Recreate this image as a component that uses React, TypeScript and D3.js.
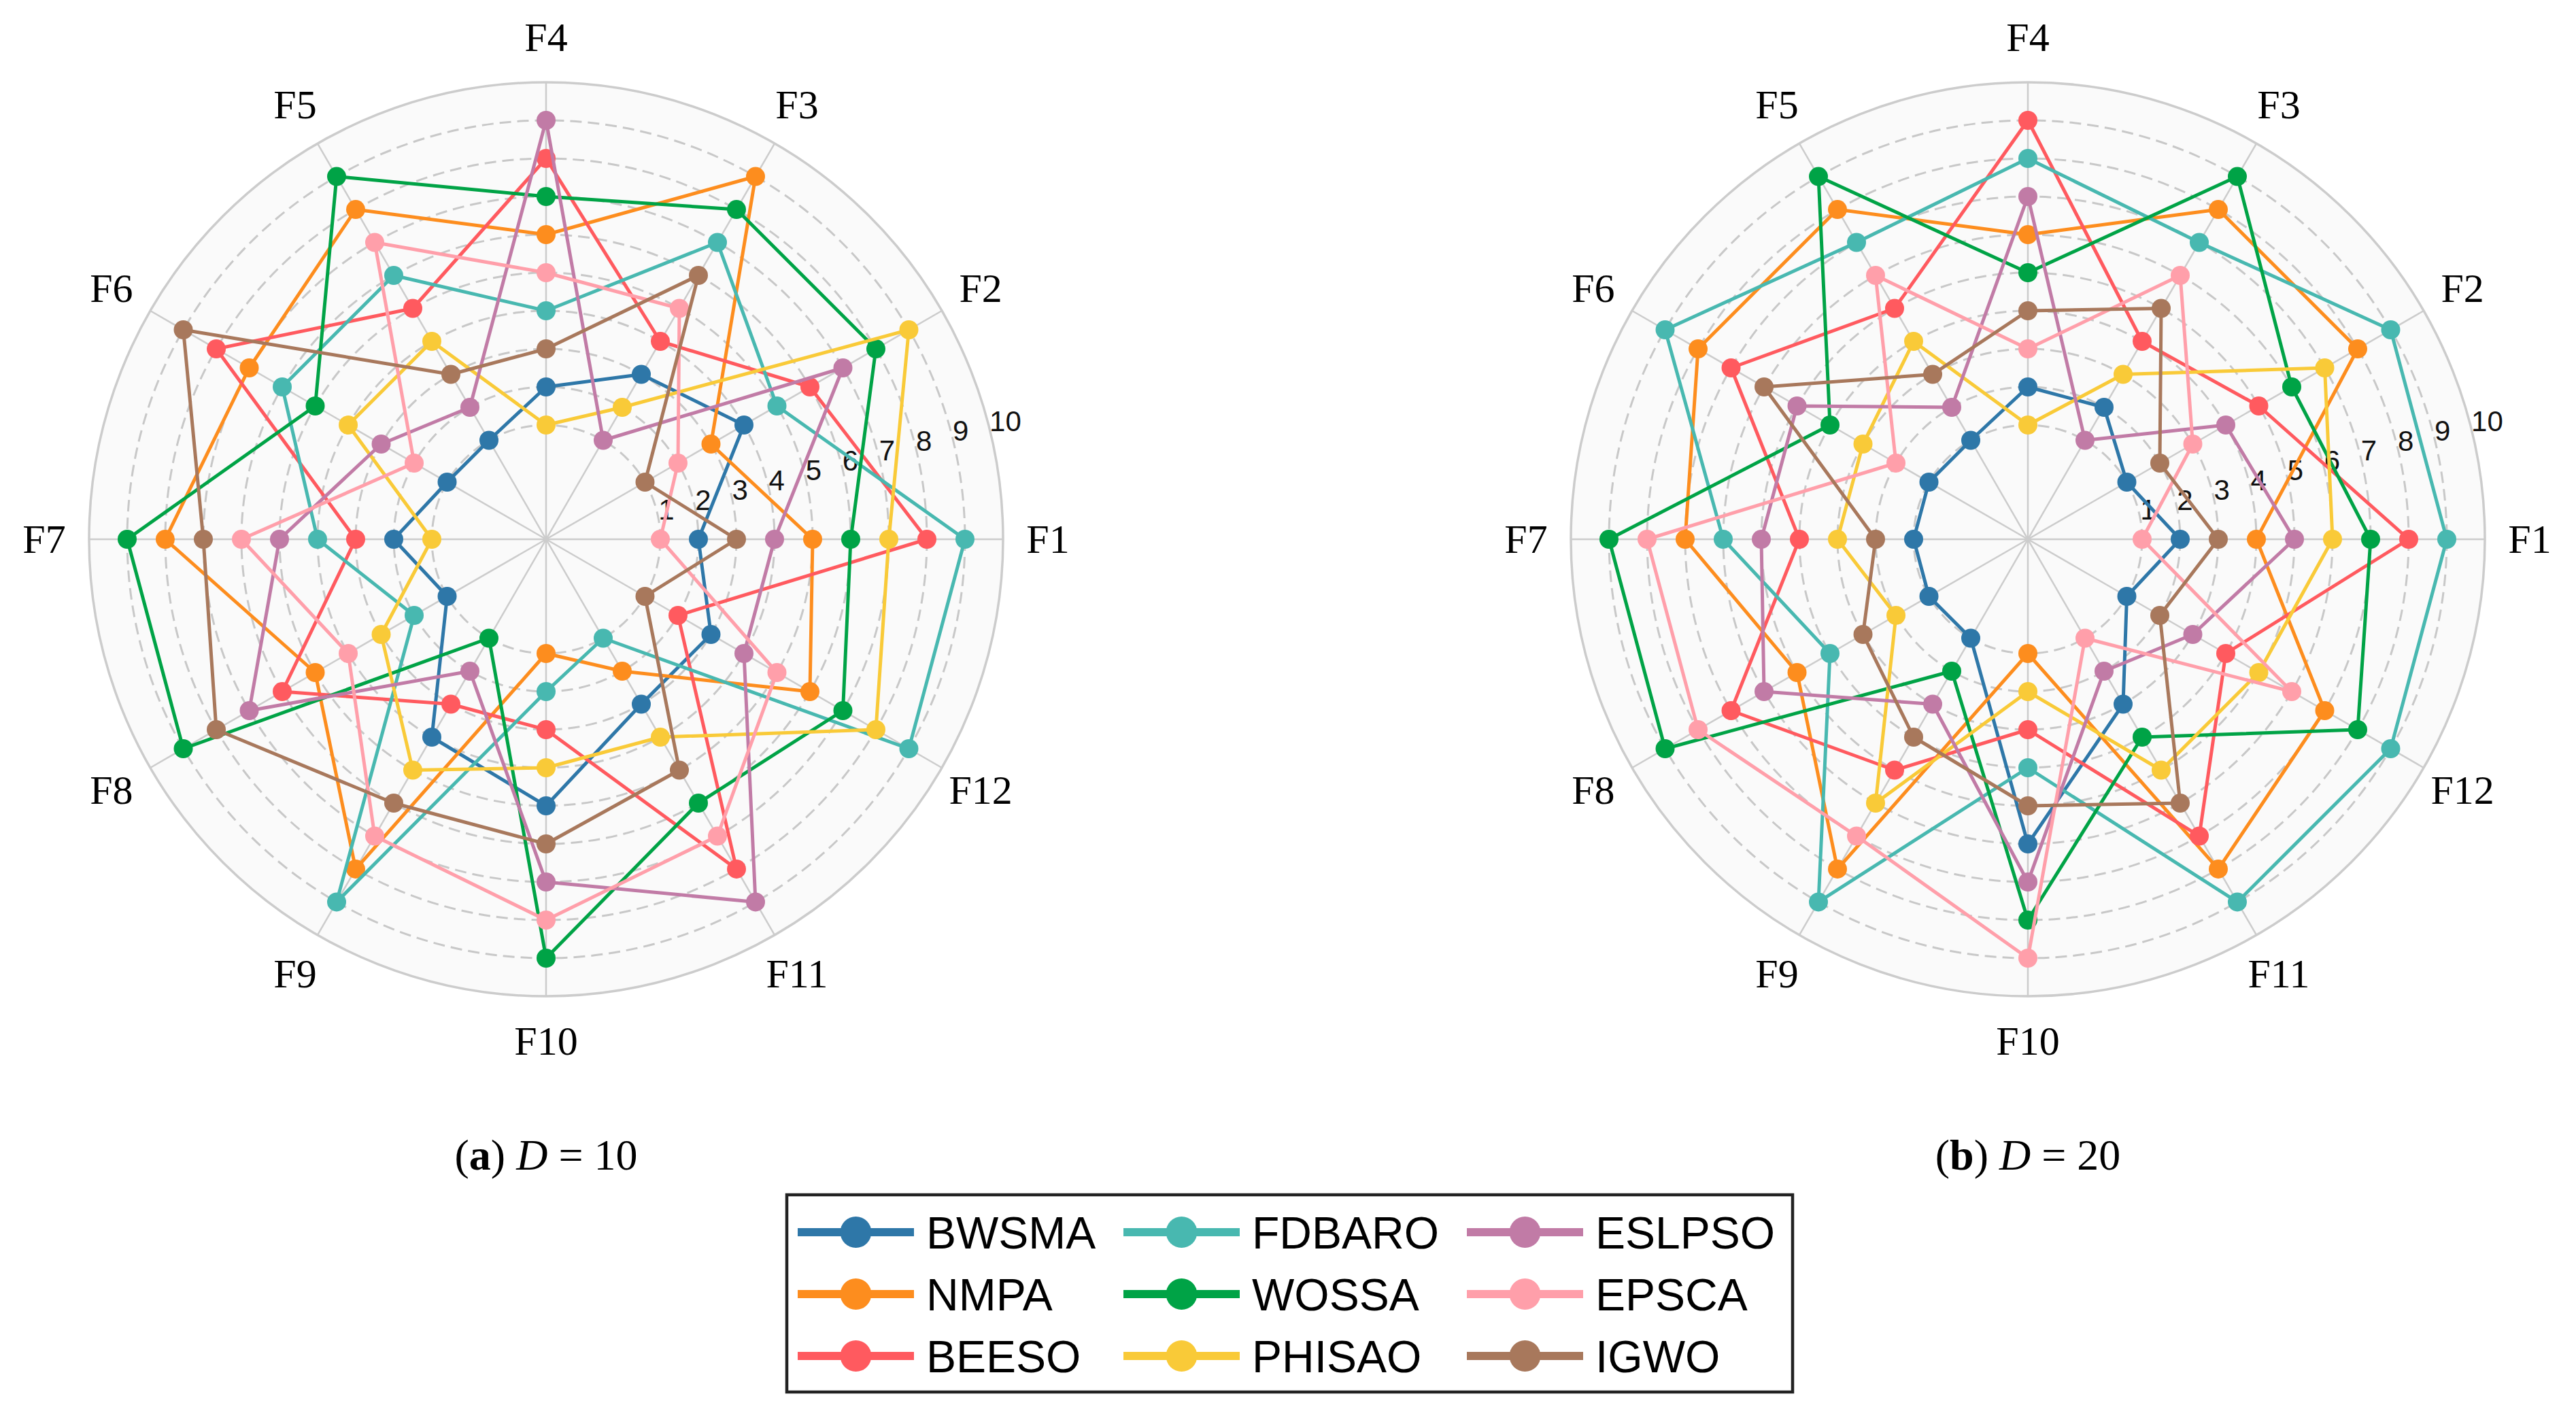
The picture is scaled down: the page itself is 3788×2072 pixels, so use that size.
import React from 'react';
import * as d3 from 'd3';

// ---------- data ----------
const functionLabels = ['F1', 'F2', 'F3', 'F4', 'F5', 'F6', 'F7', 'F8', 'F9', 'F10', 'F11', 'F12'];
const algorithms = ['BWSMA', 'NMPA', 'BEESO', 'FDBARO', 'WOSSA', 'PHISAO', 'ESLPSO', 'EPSCA', 'IGWO'];
const algorithmColors = ['#2E77A8', '#FD8D1E', '#FF5A5F', '#48B8B0', '#00A346', '#F9CA38', '#C17BA6', '#FF9FAA', '#A8785C'];
const radialTicks = [1, 2, 3, 4, 5, 6, 7, 8, 9, 10];
const radialDomain = [-2, 10];

// D = 10 ranks (F1..F12)
const BWSMA_D10 = [2, 4, 3, 2, 1, 1, 2, 1, 4, 5, 3, 3];
const NMPA_D10 = [5, 3, 9, 6, 8, 7, 8, 5, 8, 1, 2, 6];
const BEESO_D10 = [8, 6, 4, 8, 5, 8, 3, 6, 3, 3, 8, 2];
const FDBARO_D10 = [9, 5, 7, 4, 6, 6, 4, 2, 9, 2, 1, 9];
const WOSSA_D10 = [6, 8, 8, 7, 9, 5, 9, 9, 1, 9, 6, 7];
const PHISAO_D10 = [7, 9, 2, 1, 4, 4, 1, 3, 5, 4, 4, 8];
const ESLPSO_D10 = [4, 7, 1, 9, 2, 3, 5, 7, 2, 7, 9, 4];
const EPSCA_D10 = [1, 2, 5, 5, 7, 2, 6, 4, 7, 8, 7, 5];
const IGWO_D10 = [3, 1, 6, 3, 3, 9, 7, 8, 6, 6, 5, 1];

// D = 20 ranks (F1..F12)
const BWSMA_D20 = [2, 1, 2, 2, 1, 1, 1, 1, 1, 6, 3, 1];
const NMPA_D20 = [4, 8, 8, 6, 8, 8, 7, 5, 8, 1, 8, 7];
const BEESO_D20 = [8, 5, 4, 9, 5, 7, 4, 7, 5, 3, 7, 4];
const FDBARO_D20 = [9, 9, 7, 8, 7, 9, 6, 4, 9, 4, 9, 9];
const WOSSA_D20 = [7, 6, 9, 5, 9, 4, 9, 9, 2, 8, 4, 8];
const PHISAO_D20 = [6, 7, 3, 1, 4, 3, 3, 2, 6, 2, 5, 5];
const ESLPSO_D20 = [5, 4, 1, 7, 2, 5, 5, 6, 3, 7, 2, 3];
const EPSCA_D20 = [1, 3, 6, 3, 6, 2, 8, 8, 7, 9, 1, 6];
const IGWO_D20 = [3, 2, 5, 4, 3, 6, 2, 3, 4, 5, 6, 2];

const seriesD10 = [BWSMA_D10, NMPA_D10, BEESO_D10, FDBARO_D10, WOSSA_D10, PHISAO_D10, ESLPSO_D10, EPSCA_D10, IGWO_D10];
const seriesD20 = [BWSMA_D20, NMPA_D20, BEESO_D20, FDBARO_D20, WOSSA_D20, PHISAO_D20, ESLPSO_D20, EPSCA_D20, IGWO_D20];

// ---------- layout / style ----------
const W = 3788;
const H = 2072;
const R = 672;
const GRID = '#cccccc';
const SERIF = '"Liberation Serif", "Times New Roman", serif';
const SANS = '"Liberation Sans", Arial, sans-serif';

function Radar({ cx, cy, series, letter, dim }: { cx: number; cy: number; series: number[][]; letter: string; dim: string }) {
  const r = d3.scaleLinear().domain(radialDomain).range([0, R]);
  const theta = d3.scaleLinear().domain([0, functionLabels.length]).range([0, 2 * Math.PI]);
  const px = (i: number, v: number) => r(v) * Math.cos(theta(i));
  const py = (i: number, v: number) => -r(v) * Math.sin(theta(i));
  const line = d3
    .lineRadial<number>()
    .angle((_d, i) => Math.PI / 2 - theta(i))
    .radius((d) => r(d))
    .curve(d3.curveLinearClosed);
  const labelAngle = (15 * Math.PI) / 180;

  return (
    <g transform={`translate(${cx},${cy})`}>
      <circle r={r(10)} fill="#fafafa" stroke="none" />
      {radialTicks
        .filter((t) => t < 10)
        .map((t) => (
          <circle key={'g' + t} r={r(t)} fill="none" stroke="#c8c8c8" strokeWidth={3} strokeDasharray="17 9" />
        ))}
      {functionLabels.map((_f, i) => (
        <line key={'s' + i} x1={0} y1={0} x2={px(i, 10)} y2={py(i, 10)} stroke={GRID} strokeWidth={2.5} />
      ))}
      <circle r={r(10)} fill="none" stroke={GRID} strokeWidth={3.5} />
      {radialTicks.map((t) => (
        <text
          key={'t' + t}
          x={r(t) * Math.cos(labelAngle) + 3}
          y={-r(t) * Math.sin(labelAngle)}
          fontFamily={SANS}
          fontSize={42}
          dominantBaseline="central"
          textAnchor="start"
          fill="#111"
        >
          {t}
        </text>
      ))}
      {functionLabels.map((f, i) => (
        <text
          key={'l' + i}
          x={(R + 66) * Math.cos(theta(i))}
          y={-(R + 66) * Math.sin(theta(i))}
          fontFamily={SERIF}
          fontSize={60}
          textAnchor="middle"
          dominantBaseline="central"
          fill="#000"
        >
          {f}
        </text>
      ))}
      {series.map((vals, s) => (
        <g key={'ser' + s}>
          <path d={line(vals) || ''} fill="none" stroke={algorithmColors[s]} strokeWidth={5} strokeLinejoin="round" />
          {vals.map((v, i) => (
            <circle key={i} cx={px(i, v)} cy={py(i, v)} r={14} fill={algorithmColors[s]} />
          ))}
        </g>
      ))}
      <text x={0} y={1720 - cy} fontFamily={SERIF} fontSize={64} textAnchor="middle" fill="#000">
        (<tspan fontWeight="bold">{letter}</tspan>){' '}
        <tspan fontStyle="italic">D</tspan>
        {' = ' + dim}
      </text>
    </g>
  );
}

function Legend() {
  const colX = [1173, 1652, 2157];
  const rowY = [1812, 1903, 1994];
  const handleLen = 171;
  return (
    <g>
      <rect x={1157} y={1757} width={1479} height={290} fill="#fff" stroke="#222" strokeWidth={4.5} />
      {algorithms.map((a, i) => {
        const c = Math.floor(i / 3);
        const rr = i % 3;
        const x0 = colX[c];
        const y0 = rowY[rr];
        return (
          <g key={a}>
            <line x1={x0} x2={x0 + handleLen} y1={y0} y2={y0} stroke={algorithmColors[i]} strokeWidth={12} />
            <circle cx={x0 + handleLen / 2} cy={y0} r={23} fill={algorithmColors[i]} />
            <text x={x0 + 189} y={y0 + 24} fontFamily={SANS} fontSize={66} fill="#000">
              {a}
            </text>
          </g>
        );
      })}
    </g>
  );
}

export default function App() {
  return (
    <svg
      width={W}
      height={H}
      viewBox={`0 0 ${W} ${H}`}
      style={{ position: 'absolute', left: 0, top: 0, background: '#fff' }}
    >
      <rect width={W} height={H} fill="#fff" />
      <Radar cx={803} cy={793} series={seriesD10} letter="a" dim="10" />
      <Radar cx={2982} cy={793} series={seriesD20} letter="b" dim="20" />
      <Legend />
    </svg>
  );
}
